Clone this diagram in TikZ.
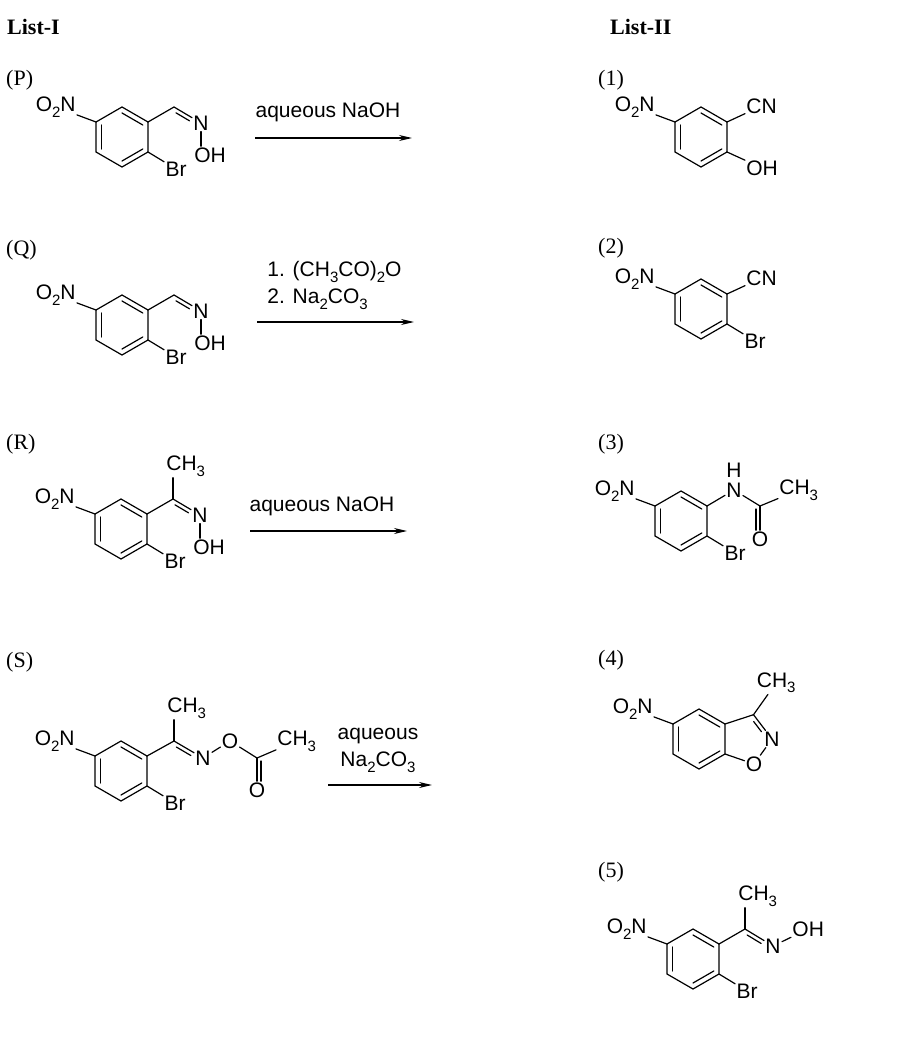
\documentclass[tikz,border=0pt]{standalone}
\usepackage{fontspec}
\setmainfont{Liberation Serif}
\newfontfamily\arialf{Liberation Sans}
\usetikzlibrary{calc,arrows.meta}
\newcommand\chemsub[1]{\raisebox{-0.28em}{\fontsize{15}{15}\selectfont #1}}
\tikzset{
  bond/.style={line width=1.2pt, line cap=round},
  lab/.style={font=\arialf\fontsize{21}{23}\selectfont, inner sep=1.2pt},
  hdr/.style={font=\fontsize{22}{24}\selectfont, anchor=west, inner sep=0pt},
  rxn/.style={line width=1.2pt, -{Stealth[length=13pt,width=6pt]}},
}
\newcommand\arene[3]{%
  \coordinate (#1c) at (#2,#3);
  \coordinate (#1v1) at ($(#1c)+(0,-30)$);
  \coordinate (#1v2) at ($(#1c)+(26,-15)$);
  \coordinate (#1v3) at ($(#1c)+(26,15)$);
  \coordinate (#1v4) at ($(#1c)+(0,30)$);
  \coordinate (#1v5) at ($(#1c)+(-26,15)$);
  \coordinate (#1v6) at ($(#1c)+(-26,-15)$);
  \draw[bond] (#1v1)--(#1v2)--(#1v3)--(#1v4)--(#1v5)--(#1v6)--cycle;
  \draw[bond] ($(#1c)!0.8!(#1v6)$)--($(#1c)!0.8!(#1v5)$);
  \draw[bond] ($(#1c)!0.8!(#1v1)$)--($(#1c)!0.8!(#1v2)$);
  \draw[bond] ($(#1c)!0.8!(#1v3)$)--($(#1c)!0.8!(#1v4)$);
  \node[lab,anchor=east] (#1no) at ($(#1c)+(-45,-30)$) {O\chemsub{2}N};
  \draw[bond] (#1v6) -- (#1no);
}
\newcommand\dbl[5]{%
  \draw[bond] ($(#1)!#4!(#2)!4pt!#3:(#2)$) -- ($(#2)!#5!(#1)!4pt!-#3:(#1)$);
}
\begin{document}
\begin{tikzpicture}[x=1pt,y=-1pt]
\useasboundingbox (0,0) rectangle (908,1038);
\node[hdr,font=\bfseries\fontsize{22}{24}\selectfont] (h1) at (7,27) {List-I};
\node[hdr,font=\bfseries\fontsize{22}{24}\selectfont] (h2) at (610,27) {List-II};
\node[hdr] (lP) at (6,80) {(P)};
\node[hdr] (lQ) at (6,250) {(Q)};
\node[hdr] (lR) at (6,444) {(R)};
\node[hdr] (lS) at (6,662) {(S)};
\node[hdr] (l1) at (598,80) {(1)};
\node[hdr] (l2) at (598,248) {(2)};
\node[hdr] (l3) at (598,444) {(3)};
\node[hdr] (l4) at (598,660) {(4)};
\node[hdr] (l5) at (598,872) {(5)};

% ---------- P ----------
\arene{p}{122}{137}
\coordinate (pC) at ($(pv2)+(26,-15)$);
\node[lab] (pN) at ($(pC)+(27,16)$) {N};
\node[lab,anchor=west] (pOH) at ($(pN)+(-8,32)$) {OH};
\node[lab] (pBr) at ($(pv3)+(28,17)$) {Br};
\draw[bond] (pv2)--(pC)--(pN);
\dbl{pC}{pN}{-90}{0.15}{0.35}
\draw[bond] (pN) -- (pN|-pOH.north);
\draw[bond] (pv3)--(pBr);
\coordinate (pa1) at (255,138); \coordinate (pa2) at (412,138);
\draw[rxn] (pa1)--(pa2);
\node[lab] (pt) at (328,112) {aqueous NaOH};

% ---------- Q ----------
\arene{q}{122}{325}
\coordinate (qC) at ($(qv2)+(26,-15)$);
\node[lab] (qN) at ($(qC)+(27,16)$) {N};
\node[lab,anchor=west] (qOH) at ($(qN)+(-8,32)$) {OH};
\node[lab] (qBr) at ($(qv3)+(28,17)$) {Br};
\draw[bond] (qv2)--(qC)--(qN);
\dbl{qC}{qN}{-90}{0.15}{0.35}
\draw[bond] (qN) -- (qN|-qOH.north);
\draw[bond] (qv3)--(qBr);
\coordinate (qa1) at (257,322); \coordinate (qa2) at (414,322);
\draw[rxn] (qa1)--(qa2);
\node[lab,anchor=west] (qt1) at (266,272) {1. (CH\chemsub{3}CO)\chemsub{2}O};
\node[lab,anchor=west] (qt2) at (266,299) {2. Na\chemsub{2}CO\chemsub{3}};

% ---------- R ----------
\arene{r}{121}{529}
\coordinate (rC) at ($(rv2)+(26,-15)$);
\node[lab,anchor=west] (rMe) at ($(rC)+(-8,-33)$) {CH\chemsub{3}};
\node[lab] (rN) at ($(rC)+(27,16)$) {N};
\node[lab,anchor=west] (rOH) at ($(rN)+(-8,32)$) {OH};
\node[lab] (rBr) at ($(rv3)+(28,17)$) {Br};
\draw[bond] (rv2)--(rC)--(rN);
\draw[bond] (rC)--(rC|-rMe.south);
\dbl{rC}{rN}{-90}{0.15}{0.35}
\draw[bond] (rN) -- (rN|-rOH.north);
\draw[bond] (rv3)--(rBr);
\coordinate (ra1) at (250,531); \coordinate (ra2) at (407,531);
\draw[rxn] (ra1)--(ra2);
\node[lab] (rt) at (322,506) {aqueous NaOH};

% ---------- S ----------
\arene{s}{121}{771}
\coordinate (sC) at ($(sv2)+(27,-15)$);
\node[lab,anchor=west] (sMe) at ($(sC)+(-8,-33)$) {CH\chemsub{3}};
\node[lab] (sN) at ($(sC)+(29,17)$) {N};
\node[lab] (sO) at ($(sN)+(27,-17)$) {O};
\coordinate (sC2) at ($(sO)+(27,17)$);
\node[lab,anchor=west] (sMe2) at ($(sC2)+(19,-17)$) {CH\chemsub{3}};
\node[lab] (sO2) at ($(sC2)+(0,32)$) {O};
\node[lab] (sBr) at ($(sv3)+(28,17)$) {Br};
\draw[bond] (sv2)--(sC)--(sN)--(sO)--(sC2)--(sMe2);
\draw[bond] (sC)--(sC|-sMe.south);
\dbl{sC}{sN}{-90}{0.15}{0.35}
\draw[bond] (sC2)--(sO2);
\draw[bond] ($(sC2)+(4,3)$)--($(sO2.north)+(4,0)$);
\draw[bond] (sv3)--(sBr);
\coordinate (sa1) at (328,785); \coordinate (sa2) at (432,785);
\draw[rxn] (sa1)--(sa2);
\node[lab] (st1) at (378,736) {aqueous};
\node[lab] (st2) at (378,762) {Na\chemsub{2}CO\chemsub{3}};

% ---------- (1) ----------
\arene{a}{701}{137}
\node[lab,anchor=west] (aCN) at ($(av2)+(18,-16)$) {CN};
\node[lab,anchor=west] (aOH) at ($(av3)+(18,16)$) {OH};
\draw[bond] (av2)--(aCN); \draw[bond] (av3)--(aOH);

% ---------- (2) ----------
\arene{b}{701}{309}
\node[lab,anchor=west] (bCN) at ($(bv2)+(18,-16)$) {CN};
\node[lab] (bBr) at ($(bv3)+(28,17)$) {Br};
\draw[bond] (bv2)--(bCN); \draw[bond] (bv3)--(bBr);

% ---------- (3) ----------
\arene{c}{681}{521}
\node[lab] (cN) at ($(cv2)+(27,-16)$) {N};
\node[lab] (cH) at ($(cN)+(0,-20)$) {H};
\coordinate (cC) at ($(cN)+(26,16)$);
\node[lab,anchor=west] (cMe) at ($(cC)+(18,-16)$) {CH\chemsub{3}};
\node[lab] (cO) at ($(cC)+(0,33)$) {O};
\node[lab] (cBr) at ($(cv3)+(28,17)$) {Br};
\draw[bond] (cv2)--(cN)--(cC)--(cMe);
\draw[bond] (cC)--(cO);
\draw[bond] ($(cC)+(-4,3)$)--($(cO.north)+(-4,0)$);
\draw[bond] (cv3)--(cBr);

% ---------- (4) ----------
\arene{d}{699}{739}
\coordinate (dC3) at ($(dv2)+(28.5,-9.3)$);
\node[lab] (dN) at ($(dv2)+(47,15)$) {N};
\node[lab] (dO) at ($(dv3)+(29,10)$) {O};
\node[lab,anchor=west] (dMe) at ($(dC3)+(2,-32)$) {CH\chemsub{3}};
\draw[bond] (dv2)--(dC3)--(dN)--(dO)--(dv3);
\draw[bond] (dC3)--(dMe);
\dbl{dC3}{dN}{-90}{0.18}{0.4}

% ---------- (5) ----------
\arene{e}{693}{959}
\coordinate (eC) at ($(ev2)+(26,-15)$);
\node[lab,anchor=west] (eMe) at ($(eC)+(-8,-33)$) {CH\chemsub{3}};
\node[lab] (eN) at ($(eC)+(28,17)$) {N};
\node[lab,anchor=west] (eOH) at ($(eN)+(18,-17)$) {OH};
\node[lab] (eBr) at ($(ev3)+(28,17)$) {Br};
\draw[bond] (ev2)--(eC)--(eN)--(eOH);
\draw[bond] (eC)--(eC|-eMe.south);
\dbl{eC}{eN}{-90}{0.15}{0.35}
\draw[bond] (ev3)--(eBr);
\end{tikzpicture}
\end{document}
